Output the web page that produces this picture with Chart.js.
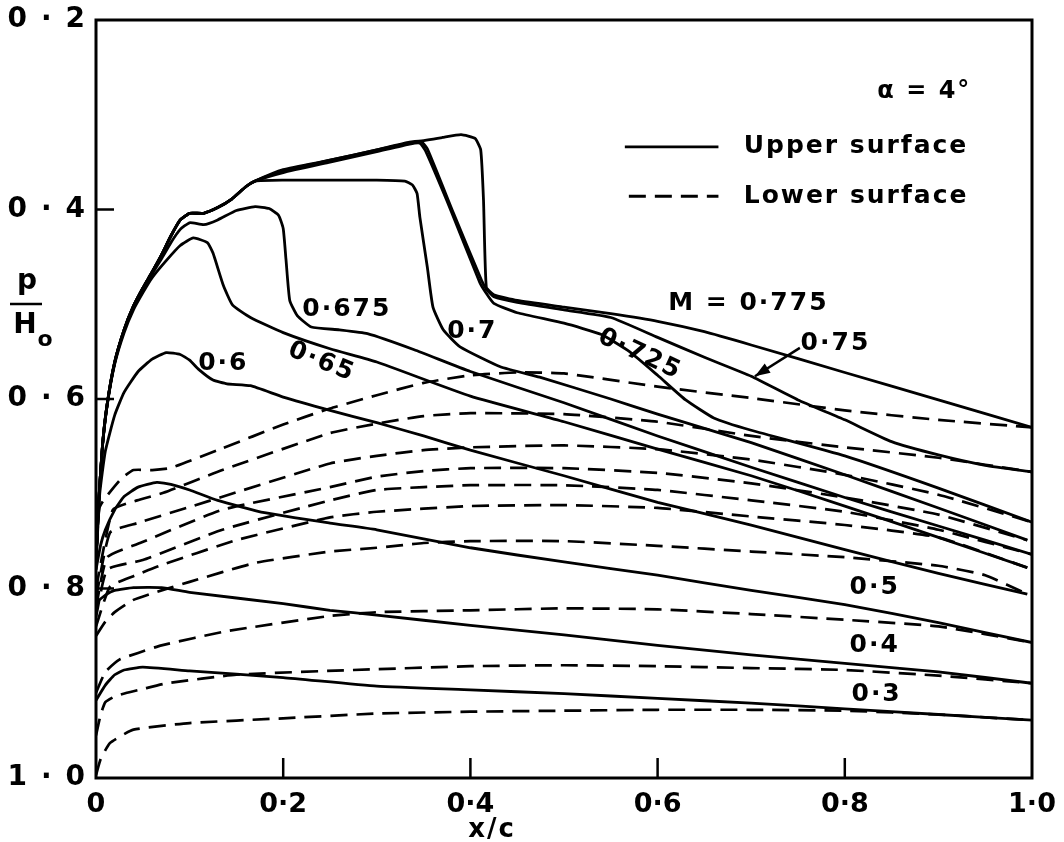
<!DOCTYPE html>
<html>
<head>
<meta charset="utf-8">
<script src="https://cdn.jsdelivr.net/npm/chart.js@4.4.1/dist/chart.umd.min.js"></script>
<style>
  html, body { margin: 0; padding: 0; background: #fff; }
  #wrap { width: 1064px; height: 842px; }
</style>
</head>
<body>
<div id="wrap"><canvas id="chart" width="1064" height="842"></canvas></div>
<script>
// --- Data: x/c against p/H0, alpha = 4 deg ---
// each entry is [x/c, p/H0]

// Upper surface (solid)
const upperM03 = [[0,0.918],[0.01,0.902],[0.02,0.891],[0.03,0.886],[0.05,0.883],[0.1,0.887],[0.2,0.894],[0.3,0.903],[0.4,0.907],[0.5,0.911],[0.6,0.916],[0.7,0.921],[0.8,0.927],[0.9,0.933],[1.0,0.939]];
const upperM04 = [[0,0.815],[0.01,0.807],[0.02,0.802],[0.04,0.799],[0.07,0.799],[0.1,0.804],[0.2,0.816],[0.25,0.823],[0.3,0.828],[0.4,0.839],[0.5,0.849],[0.6,0.860],[0.7,0.870],[0.8,0.879],[0.9,0.888],[1.0,0.900]];
const upperM05 = [[0,0.780],[0.005,0.754],[0.01,0.738],[0.02,0.717],[0.03,0.703],[0.045,0.693],[0.065,0.688],[0.08,0.690],[0.1,0.696],[0.13,0.707],[0.18,0.720],[0.25,0.731],[0.3,0.738],[0.4,0.757],[0.5,0.772],[0.6,0.786],[0.7,0.802],[0.8,0.817],[0.9,0.836],[1.0,0.857]];
const upperM06 = [[0,0.775],[0.004,0.700],[0.01,0.655],[0.02,0.617],[0.03,0.593],[0.045,0.571],[0.06,0.558],[0.075,0.551],[0.09,0.553],[0.1,0.559],[0.11,0.569],[0.125,0.580],[0.14,0.584],[0.165,0.586],[0.2,0.598],[0.25,0.612],[0.3,0.625],[0.35,0.639],[0.4,0.654],[0.5,0.681],[0.6,0.709],[0.7,0.733],[0.8,0.759],[0.9,0.784],[0.995,0.806]];
const upperM065 = [[0,0.770],[0.003,0.707],[0.007,0.649],[0.012,0.606],[0.02,0.563],[0.03,0.530],[0.04,0.506],[0.05,0.488],[0.06,0.472],[0.075,0.454],[0.09,0.438],[0.104,0.430],[0.119,0.435],[0.125,0.446],[0.136,0.480],[0.146,0.501],[0.165,0.514],[0.2,0.530],[0.25,0.547],[0.3,0.561],[0.4,0.597],[0.5,0.624],[0.6,0.653],[0.7,0.681],[0.8,0.713],[0.9,0.746],[0.995,0.778]];
const upperM0675 = [[0,0.770],[0.003,0.707],[0.007,0.649],[0.012,0.606],[0.02,0.562],[0.03,0.528],[0.04,0.504],[0.05,0.485],[0.06,0.468],[0.07,0.452],[0.08,0.435],[0.09,0.421],[0.1,0.414],[0.115,0.416],[0.13,0.411],[0.15,0.401],[0.17,0.397],[0.185,0.399],[0.195,0.406],[0.2,0.420],[0.203,0.453],[0.207,0.496],[0.215,0.512],[0.23,0.524],[0.26,0.527],[0.29,0.531],[0.34,0.548],[0.4,0.571],[0.5,0.604],[0.6,0.639],[0.7,0.672],[0.8,0.704],[0.9,0.734],[1.0,0.764]];
const upperM07 = [[0,0.770],[0.003,0.707],[0.007,0.648],[0.012,0.605],[0.02,0.561],[0.03,0.527],[0.04,0.502],[0.05,0.483],[0.06,0.466],[0.07,0.448],[0.08,0.428],[0.09,0.411],[0.1,0.404],[0.115,0.404],[0.13,0.398],[0.145,0.389],[0.16,0.376],[0.17,0.370],[0.2,0.369],[0.25,0.369],[0.3,0.369],[0.33,0.370],[0.338,0.374],[0.343,0.383],[0.346,0.408],[0.354,0.461],[0.36,0.503],[0.371,0.527],[0.389,0.545],[0.432,0.566],[0.474,0.577],[0.55,0.600],[0.6,0.616],[0.7,0.646],[0.8,0.680],[0.9,0.715],[0.995,0.749]];
const upperM0725 = [[0,0.770],[0.003,0.707],[0.007,0.648],[0.012,0.605],[0.02,0.561],[0.03,0.527],[0.04,0.502],[0.05,0.483],[0.06,0.466],[0.07,0.448],[0.08,0.428],[0.09,0.411],[0.1,0.404],[0.115,0.404],[0.13,0.398],[0.145,0.389],[0.16,0.376],[0.17,0.370],[0.2,0.361],[0.25,0.350],[0.3,0.339],[0.335,0.331],[0.346,0.330],[0.352,0.338],[0.38,0.403],[0.41,0.477],[0.416,0.487],[0.425,0.499],[0.45,0.509],[0.5,0.520],[0.54,0.532],[0.57,0.550],[0.6,0.575],[0.63,0.601],[0.66,0.620],[0.7,0.633],[0.8,0.660],[0.9,0.694],[1.0,0.730]];
const upperM075 = [[0,0.770],[0.003,0.707],[0.007,0.648],[0.012,0.605],[0.02,0.561],[0.03,0.527],[0.04,0.502],[0.05,0.483],[0.06,0.466],[0.07,0.448],[0.08,0.428],[0.09,0.411],[0.1,0.404],[0.115,0.404],[0.13,0.398],[0.145,0.389],[0.16,0.376],[0.17,0.370],[0.2,0.359],[0.25,0.348],[0.3,0.337],[0.335,0.329],[0.347,0.328],[0.354,0.336],[0.382,0.404],[0.412,0.475],[0.417,0.484],[0.425,0.492],[0.45,0.498],[0.5,0.506],[0.55,0.514],[0.6,0.535],[0.65,0.556],[0.7,0.576],[0.75,0.601],[0.8,0.622],[0.85,0.645],[0.9,0.659],[0.95,0.670],[1.0,0.677]];
const upperM0775 = [[0,0.770],[0.003,0.707],[0.007,0.648],[0.012,0.605],[0.02,0.561],[0.03,0.527],[0.04,0.502],[0.05,0.483],[0.06,0.466],[0.07,0.448],[0.08,0.428],[0.09,0.411],[0.1,0.404],[0.115,0.404],[0.13,0.398],[0.145,0.389],[0.16,0.376],[0.17,0.370],[0.2,0.358],[0.25,0.348],[0.3,0.337],[0.345,0.328],[0.37,0.324],[0.39,0.321],[0.405,0.325],[0.411,0.337],[0.414,0.390],[0.417,0.482],[0.425,0.490],[0.45,0.496],[0.5,0.503],[0.55,0.510],[0.6,0.518],[0.65,0.529],[0.7,0.543],[0.8,0.572],[0.9,0.601],[1.0,0.630]];

// Lower surface (dashed)
const lowerM03 = [[0,0.997],[0.005,0.980],[0.015,0.963],[0.04,0.949],[0.1,0.942],[0.2,0.937],[0.3,0.932],[0.4,0.930],[0.5,0.929],[0.6,0.928],[0.7,0.928],[0.8,0.929],[0.9,0.933],[1.0,0.939]];
const lowerM04 = [[0,0.955],[0.005,0.933],[0.01,0.920],[0.02,0.914],[0.033,0.910],[0.05,0.906],[0.076,0.900],[0.15,0.891],[0.275,0.886],[0.4,0.882],[0.5,0.881],[0.6,0.882],[0.7,0.884],[0.8,0.886],[0.9,0.892],[1.0,0.900]];
const lowerM05 = [[0,0.910],[0.01,0.888],[0.025,0.875],[0.045,0.868],[0.07,0.860],[0.14,0.845],[0.25,0.829],[0.3,0.825],[0.4,0.823],[0.5,0.821],[0.6,0.822],[0.7,0.827],[0.8,0.833],[0.9,0.840],[1.0,0.857]];
const lowerM06 = [[0,0.850],[0.01,0.835],[0.02,0.825],[0.04,0.812],[0.07,0.802],[0.1,0.793],[0.17,0.773],[0.25,0.761],[0.3,0.757],[0.35,0.752],[0.4,0.750],[0.5,0.750],[0.6,0.755],[0.7,0.761],[0.8,0.767],[0.9,0.776],[0.95,0.786],[0.995,0.806]];
const lowerM065 = [[0,0.840],[0.015,0.798],[0.04,0.787],[0.065,0.777],[0.15,0.749],[0.25,0.725],[0.3,0.719],[0.4,0.713],[0.5,0.712],[0.6,0.715],[0.7,0.724],[0.8,0.733],[0.9,0.746],[0.995,0.778]];
const lowerM0675 = [[0,0.830],[0.012,0.780],[0.05,0.770],[0.135,0.738],[0.25,0.707],[0.3,0.696],[0.35,0.693],[0.4,0.691],[0.5,0.691],[0.6,0.696],[0.7,0.707],[0.8,0.719],[0.9,0.738],[1.0,0.764]];
const lowerM07 = [[0,0.820],[0.012,0.767],[0.047,0.752],[0.135,0.717],[0.25,0.693],[0.3,0.682],[0.35,0.676],[0.4,0.673],[0.5,0.673],[0.6,0.678],[0.7,0.689],[0.8,0.704],[0.9,0.722],[0.995,0.749]];
const lowerM0725 = [[0,0.810],[0.015,0.741],[0.044,0.731],[0.1,0.714],[0.25,0.668],[0.3,0.660],[0.35,0.654],[0.4,0.651],[0.5,0.649],[0.6,0.653],[0.7,0.664],[0.8,0.680],[0.9,0.701],[1.0,0.730]];
const lowerM075 = [[0,0.800],[0.018,0.717],[0.044,0.707],[0.072,0.699],[0.135,0.675],[0.25,0.636],[0.3,0.626],[0.35,0.618],[0.4,0.615],[0.5,0.616],[0.6,0.624],[0.7,0.639],[0.8,0.651],[0.9,0.662],[1.0,0.677]];
const lowerM0775 = [[0,0.780],[0.004,0.714],[0.026,0.685],[0.04,0.675],[0.06,0.675],[0.079,0.673],[0.135,0.652],[0.2,0.627],[0.25,0.610],[0.3,0.596],[0.35,0.583],[0.4,0.575],[0.45,0.572],[0.5,0.573],[0.6,0.587],[0.7,0.599],[0.8,0.612],[0.9,0.622],[1.0,0.630]];

const upperCurves = [upperM03, upperM04, upperM05, upperM06, upperM065, upperM0675, upperM07, upperM0725, upperM075, upperM0775];
const lowerCurves = [lowerM03, lowerM04, lowerM05, lowerM06, lowerM065, lowerM0675, lowerM07, lowerM0725, lowerM075, lowerM0775];

// Mach number labels written on the curves: [text, x/c, p/H0, rotation deg]
const machLabels = [
    ['0·3', 0.834, 0.912, 0],
    ['0·4', 0.832, 0.860, 0],
    ['0·5', 0.832, 0.799, 0],
    ['0·6', 0.136, 0.563, 0],
    ['0·65', 0.241, 0.561, 22],
    ['0·675', 0.268, 0.506, 0],
    ['0·7', 0.402, 0.529, 0],
    ['0·725', 0.581, 0.553, 25],
    ['0·75', 0.790, 0.541, 0],
    ['M = 0·775', 0.697, 0.499, 0]
];

const FONT = "'DejaVu Sans', sans-serif";

function toPoints(arr) {
    return arr.map(d => ({ x: d[0], y: d[1] }));
}

const datasets = [];
upperCurves.forEach(c => datasets.push({
    data: toPoints(c), borderColor: '#000', borderWidth: 2.8,
    pointRadius: 0, showLine: true, tension: 0.15, fill: false
}));
lowerCurves.forEach(c => datasets.push({
    data: toPoints(c), borderColor: '#000', borderWidth: 2.7, borderDash: [17, 9],
    pointRadius: 0, showLine: true, tension: 0.15, fill: false
}));

// frame, inward ticks, labels, legend, axis titles
const decorations = {
    id: 'decorations',
    afterDraw(chart) {
        const ctx = chart.ctx;
        const a = chart.chartArea;
        const xs = chart.scales.x, ys = chart.scales.y;
        ctx.save();
        ctx.strokeStyle = '#000';
        ctx.fillStyle = '#000';
        ctx.lineWidth = 3;
        ctx.strokeRect(a.left, a.top, a.right - a.left, a.bottom - a.top);

        // inward tick marks
        ctx.lineWidth = 2.5;
        xs.ticks.forEach(t => {
            if (t.value <= 0.001 || t.value >= 0.999) return;
            const px = xs.getPixelForValue(t.value);
            ctx.beginPath(); ctx.moveTo(px, a.bottom); ctx.lineTo(px, a.bottom - 20); ctx.stroke();
        });
        ys.ticks.forEach(t => {
            if (t.value <= 0.201 || t.value >= 0.999) return;
            const py = ys.getPixelForValue(t.value);
            ctx.beginPath(); ctx.moveTo(a.left, py); ctx.lineTo(a.left + 18, py); ctx.stroke();
        });

        ctx.letterSpacing = '2px';
        ctx.textAlign = 'center';
        ctx.textBaseline = 'middle';
        ctx.font = 'bold 25px ' + FONT;
        machLabels.forEach(l => {
            const px = xs.getPixelForValue(l[1]);
            const py = ys.getPixelForValue(l[2]);
            ctx.save();
            ctx.translate(px, py);
            ctx.rotate(l[3] * Math.PI / 180);
            ctx.fillText(l[0], 0, 0);
            ctx.restore();
        });

        // arrow pointing at the M = 0.75 curve
        const ax0 = xs.getPixelForValue(0.752), ay0 = ys.getPixelForValue(0.546);
        const ax1 = xs.getPixelForValue(0.704), ay1 = ys.getPixelForValue(0.576);
        ctx.lineWidth = 2.5;
        ctx.beginPath(); ctx.moveTo(ax0, ay0); ctx.lineTo(ax1, ay1); ctx.stroke();
        const ang = Math.atan2(ay1 - ay0, ax1 - ax0);
        ctx.beginPath();
        ctx.moveTo(ax1, ay1);
        ctx.lineTo(ax1 - 16 * Math.cos(ang - 0.35), ay1 - 16 * Math.sin(ang - 0.35));
        ctx.lineTo(ax1 - 16 * Math.cos(ang + 0.35), ay1 - 16 * Math.sin(ang + 0.35));
        ctx.closePath(); ctx.fill();

        // alpha and legend
        ctx.font = 'bold 24px ' + FONT;
        ctx.fillText('α = 4°', xs.getPixelForValue(0.885), ys.getPixelForValue(0.276));

        ctx.textAlign = 'left';
        ctx.font = 'bold 25px ' + FONT;
        const lx0 = xs.getPixelForValue(0.565), lx1 = xs.getPixelForValue(0.665);
        const ly1 = ys.getPixelForValue(0.334), ly2 = ys.getPixelForValue(0.386);
        ctx.lineWidth = 2.8;
        ctx.beginPath(); ctx.moveTo(lx0, ly1); ctx.lineTo(lx1, ly1); ctx.stroke();
        ctx.setLineDash([17, 9]);
        ctx.beginPath(); ctx.moveTo(lx0 + 4, ly2); ctx.lineTo(lx1, ly2); ctx.stroke();
        ctx.setLineDash([]);
        const tx = xs.getPixelForValue(0.692);
        ctx.fillText('Upper surface', tx, ly1);
        ctx.fillText('Lower surface', tx, ly2);

        // x axis title, set below the 0.4 label as in the figure
        ctx.textAlign = 'center';
        ctx.font = 'bold 26px ' + FONT;
        ctx.fillText('x/c', 492, 830);

        // y axis title p / H0
        ctx.letterSpacing = '0px';
        ctx.font = 'bold 28px ' + FONT;
        ctx.fillText('p', 27, 282);
        ctx.lineWidth = 2.5;
        ctx.beginPath(); ctx.moveTo(10, 304); ctx.lineTo(42, 304); ctx.stroke();
        ctx.fillText('H', 25, 326);
        ctx.font = 'bold 22px ' + FONT;
        ctx.fillText('o', 45, 340);
        ctx.restore();
    }
};

new Chart(document.getElementById('chart'), {
    type: 'scatter',
    data: { datasets: datasets },
    options: {
        responsive: false,
        animation: false,
        layout: { padding: { top: 20, right: 32, left: 0, bottom: 0 } },
        plugins: { legend: { display: false }, tooltip: { enabled: false } },
        scales: {
            x: {
                type: 'linear', min: 0, max: 1,
                grid: { display: false, drawTicks: false },
                border: { display: false },
                ticks: {
                    stepSize: 0.2, padding: 11, color: '#000',
                    font: { family: FONT, size: 27, weight: 'bold' },
                    callback: v => v < 0.001 ? '0' : v.toFixed(1).replace('.', '·')
                },
                afterFit: s => { s.height = 64; s.paddingLeft = 0; s.paddingRight = 0; }
            },
            y: {
                type: 'linear', reverse: true, min: 0.2, max: 1.0,
                grid: { display: false, drawTicks: false },
                border: { display: false },
                ticks: {
                    stepSize: 0.2, padding: 11, color: '#000',
                    font: { family: FONT, size: 28, weight: 'bold' },
                    callback: v => v.toFixed(1).replace('.', '\u2002·\u2002')
                },
                afterFit: s => { s.width = 96; s.paddingTop = 0; s.paddingBottom = 0; }
            }
        }
    },
    plugins: [decorations]
});
</script>
</body>
</html>
